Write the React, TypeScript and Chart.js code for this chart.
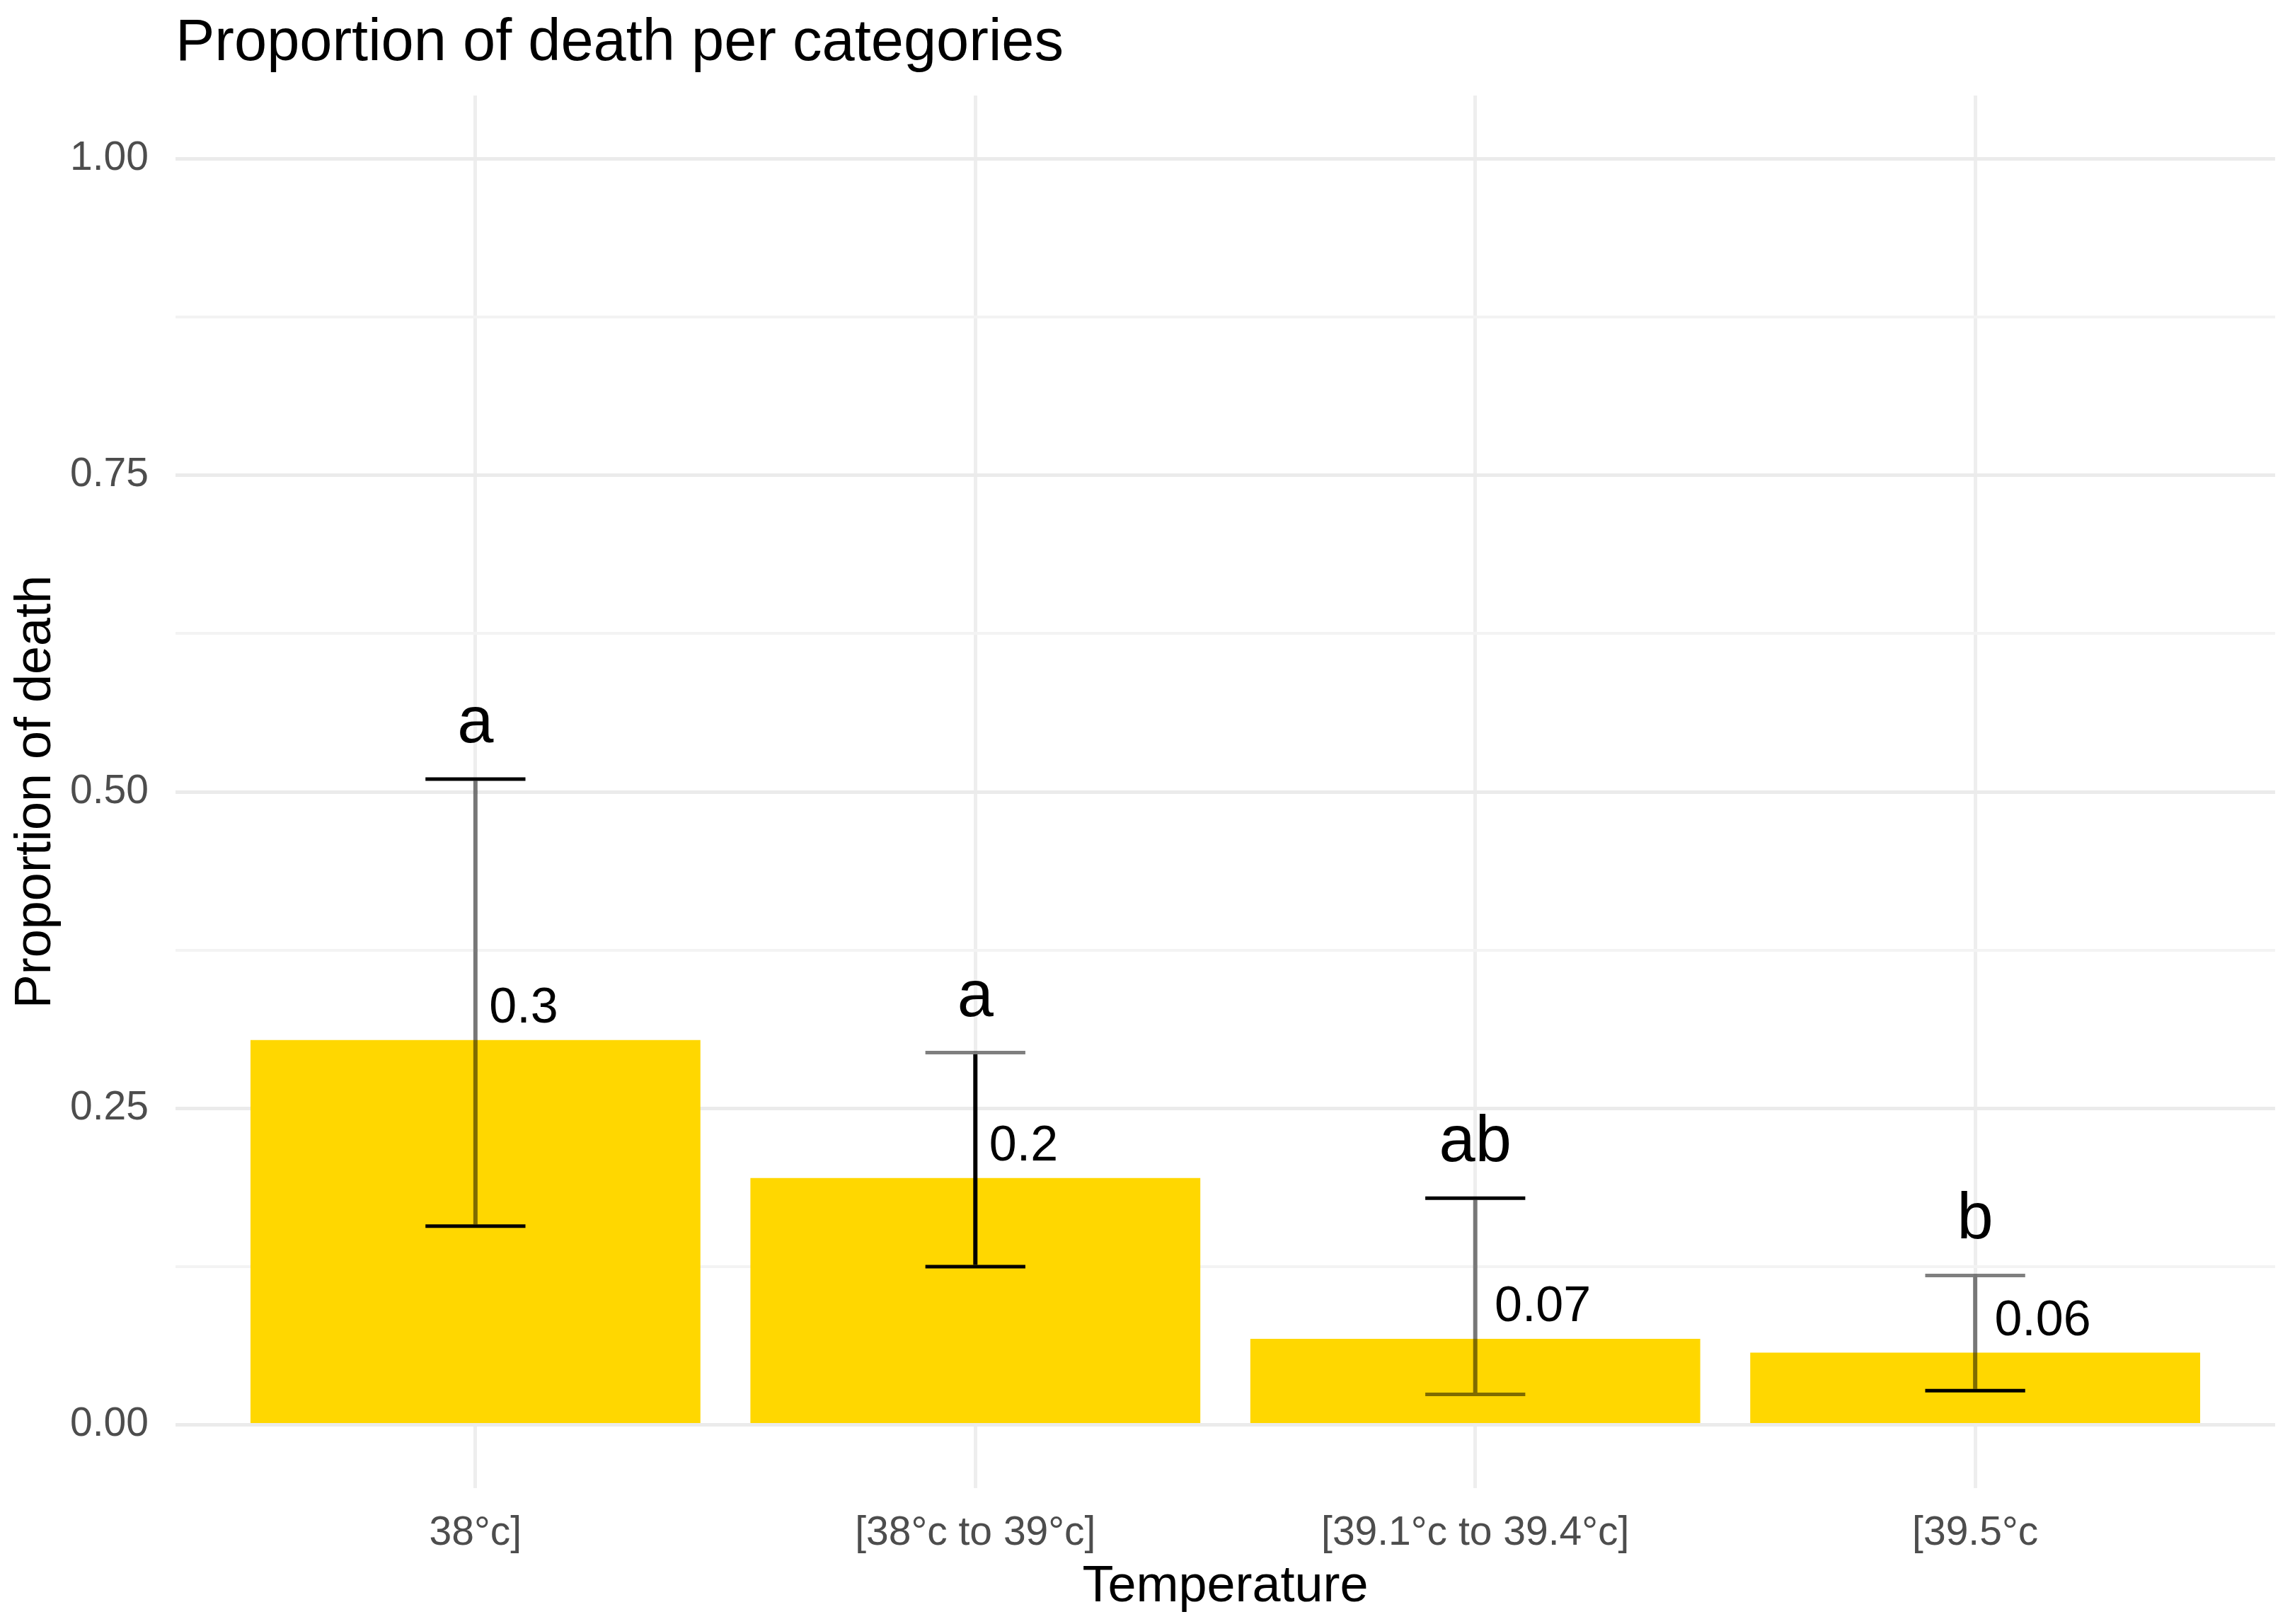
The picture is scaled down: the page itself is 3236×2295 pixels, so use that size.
import React, { useEffect, useRef } from 'react';
import { Chart, registerables } from 'chart.js';

Chart.register(...registerables);

// ---- data ----
const categories = ['38°c]', '[38°c to 39°c]', '[39.1°c to 39.4°c]', '[39.5°c'];
const proportions = [0.304, 0.195, 0.068, 0.057];
const lowerCI = [0.157, 0.125, 0.024, 0.027];
const upperCI = [0.51, 0.294, 0.179, 0.118];
const valueLabels = ['0.3', '0.2', '0.07', '0.06'];
const groupLetters = ['a', 'a', 'ab', 'b'];
const yTickValues = [0, 0.125, 0.25, 0.375, 0.5, 0.625, 0.75, 0.875, 1];
const yMajorTicks = [0, 0.25, 0.5, 0.75, 1];

// ---- styles ----
const FONT = "'Liberation Sans', Arial, sans-serif";
const BAR_COLOR = '#FFD700';
const BLACK = '#000000';
const HALF = 'rgba(0,0,0,0.5)';
const topCapColors = [BLACK, HALF, BLACK, HALF];
const stemColors = [HALF, BLACK, HALF, HALF];
const bottomCapColors = [BLACK, BLACK, HALF, BLACK];
const CAP_WIDTH = 0.2;

const isMajor = (v: number) => yMajorTicks.some((m) => Math.abs(m - v) < 1e-9);

const overlayPlugin = {
  id: 'overlay',
  afterDatasetsDraw(chart: any) {
    const { ctx, scales } = chart;
    const x = scales.x;
    const y = scales.y;
    ctx.save();
    proportions.forEach((v, i) => {
      const cx = x.getPixelForValue(i + 1);
      const xl = x.getPixelForValue(i + 1 - CAP_WIDTH / 2);
      const xr = x.getPixelForValue(i + 1 + CAP_WIDTH / 2);
      const yu = y.getPixelForValue(upperCI[i]);
      const yl = y.getPixelForValue(lowerCI[i]);
      const yb = y.getPixelForValue(v);
      ctx.lineCap = 'butt';
      // stem
      ctx.strokeStyle = stemColors[i];
      ctx.lineWidth = 6;
      ctx.beginPath();
      ctx.moveTo(cx, yu + 2.5);
      ctx.lineTo(cx, yl - 2.5);
      ctx.stroke();
      // caps
      ctx.lineWidth = 5;
      ctx.strokeStyle = topCapColors[i];
      ctx.beginPath();
      ctx.moveTo(xl, yu);
      ctx.lineTo(xr, yu);
      ctx.stroke();
      ctx.strokeStyle = bottomCapColors[i];
      ctx.beginPath();
      ctx.moveTo(xl, yl);
      ctx.lineTo(xr, yl);
      ctx.stroke();
      // value label
      ctx.fillStyle = BLACK;
      ctx.font = `70px ${FONT}`;
      ctx.textAlign = 'left';
      ctx.textBaseline = 'alphabetic';
      const w = ctx.measureText(valueLabels[i]).width;
      ctx.fillText(valueLabels[i], cx + 0.2 * w, yb - 25);
      // group letter
      ctx.font = `92px ${FONT}`;
      ctx.textAlign = 'center';
      ctx.fillText(groupLetters[i], cx, yu - 52);
    });
    ctx.restore();
  },
  afterDraw(chart: any) {
    const { ctx, chartArea } = chart;
    ctx.save();
    ctx.fillStyle = BLACK;
    ctx.font = `83px ${FONT}`;
    ctx.textAlign = 'left';
    ctx.textBaseline = 'alphabetic';
    ctx.fillText('Proportion of death per categories', chartArea.left, 85);
    ctx.restore();
  },
};

export default function App() {
  const ref = useRef<HTMLCanvasElement>(null);
  useEffect(() => {
    document.body.style.margin = '0';
    document.body.style.background = '#ffffff';
    const chart = new Chart(ref.current as HTMLCanvasElement, {
      type: 'bar',
      data: {
        datasets: [
          {
            data: proportions.map((v, i) => ({ x: i + 1, y: v })),
            backgroundColor: BAR_COLOR,
            borderWidth: 0,
            barPercentage: 0.9,
            categoryPercentage: 1.0,
          },
        ],
      },
      options: {
        responsive: false,
        devicePixelRatio: 1,
        animation: false,
        layout: { padding: { top: 135, right: 21, left: 0, bottom: 0 } },
        plugins: { legend: { display: false }, tooltip: { enabled: false }, title: { display: false } },
        scales: {
          x: {
            type: 'linear',
            min: 0.4,
            max: 4.6,
            bounds: 'data',
            offset: false,
            afterBuildTicks: (s: any) => {
              s.ticks = categories.map((_, i) => ({ value: i + 1 }));
            },
            afterFit: (s: any) => {
              s.height = 192;
            },
            ticks: {
              autoSkip: false,
              maxRotation: 0,
              padding: 30,
              color: '#4D4D4D',
              font: { family: FONT, size: 57 },
              callback: (v: any) => categories[Math.round(Number(v)) - 1] ?? '',
            },
            grid: { color: '#EEEEEE', lineWidth: 5, drawTicks: false, offset: false },
            border: { display: false },
            title: {
              display: true,
              text: 'Temperature',
              color: BLACK,
              font: { family: FONT, size: 72, lineHeight: 1.2 },
              padding: { top: 0, bottom: 9 },
            },
          },
          y: {
            type: 'linear',
            min: -0.05,
            max: 1.05,
            bounds: 'data',
            afterBuildTicks: (s: any) => {
              s.ticks = yTickValues.map((v) => ({ value: v }));
            },
            afterFit: (s: any) => {
              s.width = 248;
            },
            ticks: {
              autoSkip: false,
              padding: 38,
              color: '#4D4D4D',
              font: { family: FONT, size: 57 },
              callback: (v: any) => (isMajor(Number(v)) ? Number(v).toFixed(2) : ''),
            },
            grid: {
              color: (c: any) => (c.tick && isMajor(c.tick.value) ? '#EBEBEB' : '#F3F3F3'),
              lineWidth: (c: any) => (c.tick && isMajor(c.tick.value) ? 5 : 4),
              drawTicks: false,
            },
            border: { display: false },
            title: {
              display: true,
              text: 'Proportion of death',
              color: BLACK,
              font: { family: FONT, size: 72, lineHeight: 1.2 },
              padding: { top: 8, bottom: 0 },
            },
          },
        },
      },
      plugins: [overlayPlugin],
    } as any);
    return () => chart.destroy();
  }, []);
  return (
    <div style={{ width: 3236, height: 2295, background: '#ffffff' }}>
      <canvas ref={ref} width={3236} height={2295} style={{ display: 'block', width: 3236, height: 2295 }} />
    </div>
  );
}
